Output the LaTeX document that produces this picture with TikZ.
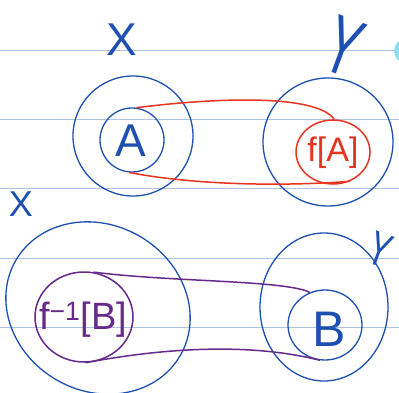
\documentclass[tikz,border=0pt]{standalone}
\usepackage{fontspec}
\setmainfont{Liberation Sans}
\usetikzlibrary{shapes.geometric}
\definecolor{ink}{RGB}{30,80,178}
\definecolor{redink}{RGB}{232,52,32}
\definecolor{purpink}{RGB}{102,42,140}
\definecolor{rulecol}{RGB}{174,194,228}
\definecolor{blob}{RGB}{140,222,240}
\begin{document}
\begin{tikzpicture}[x=1pt,y=-1pt,
  setring/.style={draw=ink, line width=1.3pt, ellipse, inner sep=0pt},
  redring/.style={draw=redink, line width=1.5pt, ellipse, inner sep=0pt},
  purring/.style={draw=purpink, line width=1.5pt, ellipse, inner sep=0pt},
  redlink/.style={draw=redink, line width=1.5pt},
  purlink/.style={draw=purpink, line width=1.5pt},
  ruleline/.style={draw=rulecol, line width=0.9pt},
  lbl/.style={inner sep=0pt}]
\useasboundingbox (0,0) rectangle (399,393);
\clip (0,0) rectangle (399,393);
\fill[white] (0,0) rectangle (399,393);
\foreach \yy in {50,119,188,258,327} \draw[ruleline] (0,\yy) -- (399,\yy);
\fill[blob] (406,51) circle (12pt);

% top half
\node[setring, minimum width=120pt, minimum height=120pt] (X1) at (133,136) {};
\node[setring, minimum width=130pt, minimum height=128pt] (Y1) at (328,142) {};
\node[setring, minimum width=64pt, minimum height=64pt] (A) at (132,140) {};
\node[redring, minimum width=74pt, minimum height=64pt] (fA) at (333,152) {};
\node[lbl, text=ink, font=\fontsize{46}{46}\selectfont] (tA) at (131,141) {A};
\node[lbl, text=redink, font=\fontsize{34}{34}\selectfont] (tfA) at (333,153) {f[A]};
\node[lbl, text=ink, font=\fontsize{46}{46}\selectfont] (lX1) at (122,40) {X};
\node[lbl, text=ink, rotate=-20, font=\fontsize{50}{50}\selectfont] (lY1) at (344,47) {\scalebox{1}[1.65]{Y}};
\draw[redlink] (A.82) .. controls (230,96) and (318,96) .. (fA.88);
\draw[redlink] (A.265) .. controls (200,186) and (290,186) .. (fA.-60);

% bottom half
\node[setring, minimum width=190pt, minimum height=166pt, rotate=-30] (X2) at (98,308) {};
\node[setring, minimum width=128pt, minimum height=148pt] (Y2) at (324,307) {};
\node[purring, minimum width=98pt, minimum height=90pt] (F) at (84,317) {};
\node[setring, minimum width=74pt, minimum height=70pt] (B) at (325,325) {};
\node[lbl, text=purpink, font=\fontsize{38}{38}\selectfont] (tF) at (83,320) {f\textsuperscript{−1}[B]};
\node[lbl, text=ink, font=\fontsize{50}{50}\selectfont] (tB) at (329,329) {B};
\node[lbl, text=ink, font=\fontsize{36}{36}\selectfont] (lX2) at (21,204) {X};
\node[lbl, text=ink, rotate=-20, font=\fontsize{32}{32}\selectfont] (lY2) at (380,250) {\scalebox{1}[1.5]{Y}};
\draw[purlink] (F.78) .. controls (170,282) and (285,280) .. (B.115);
\draw[purlink] (F.272) .. controls (180,345) and (260,345) .. (B.262);
\end{tikzpicture}
\end{document}
